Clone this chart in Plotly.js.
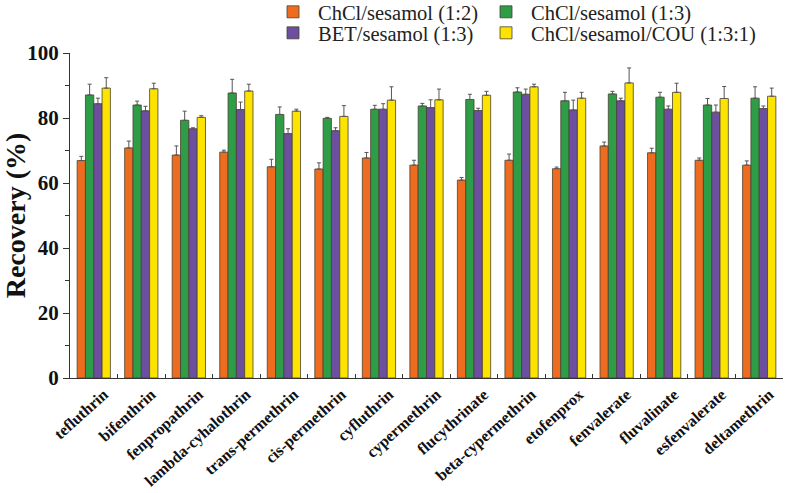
<!DOCTYPE html>
<html>
<head>
<meta charset="utf-8">
<script src="https://cdn.plot.ly/plotly-3.0.1.min.js"></script>
<style>
  html, body { margin: 0; padding: 0; background: #ffffff; }
  #chart { width: 787px; height: 493px; }
</style>
</head>
<body>
<div id="chart"></div>
<script>
// Pyrethroid recovery (%) for four extraction solvents, mean with upper SD bars
const pesticides = [
  'tefluthrin', 'bifenthrin', 'fenpropathrin', 'lambda-cyhalothrin', 'trans-permethrin',
  'cis-permethrin', 'cyfluthrin', 'cypermethrin', 'flucythrinate', 'beta-cypermethrin',
  'etofenprox', 'fenvalerate', 'fluvalinate', 'esfenvalerate', 'deltamethrin'
];

const seriesNames = [
  'ChCl/sesamol (1:2)', 'ChCl/sesamol (1:3)', 'BET/sesamol (1:3)', 'ChCl/sesamol/COU (1:3:1)'
];

const chcl12 = [66.9, 70.8, 68.6, 69.5, 65.0, 64.3, 67.7, 65.5, 60.9, 67.0, 64.4, 71.4, 69.3, 67.0, 65.5];
const chcl12Err = [1.3, 2.1, 2.8, 0.6, 2.3, 1.9, 1.7, 1.5, 0.8, 1.9, 0.5, 1.2, 1.4, 0.7, 1.3];

const chcl13 = [87.1, 84.0, 79.3, 87.7, 81.1, 79.9, 82.7, 83.7, 85.7, 88.0, 85.3, 87.4, 86.4, 84.0, 86.1];
const chcl13Err = [3.3, 1.2, 2.8, 4.2, 2.3, 0.3, 1.2, 0.8, 1.6, 1.3, 2.6, 0.8, 1.5, 2.0, 3.5];

const bet13 = [84.4, 82.2, 76.7, 82.6, 75.2, 76.1, 82.7, 83.2, 82.3, 87.3, 82.5, 85.3, 82.7, 81.8, 82.9];
const bet13Err = [1.7, 1.4, 0.3, 2.3, 1.5, 0.9, 1.7, 2.4, 0.7, 1.6, 3.0, 0.8, 1.0, 2.2, 0.8];

const cou131 = [89.2, 89.0, 80.2, 88.3, 82.1, 80.5, 85.5, 85.6, 87.0, 89.6, 86.1, 90.8, 87.9, 86.0, 86.7];
const cou131Err = [3.2, 1.7, 0.5, 2.1, 0.6, 3.3, 4.1, 3.3, 1.2, 0.8, 1.8, 4.6, 2.8, 3.7, 2.5];

const yTickVals = [0, 20, 40, 60, 80, 100];

const colors = ['#ee6c1f', '#2f9c47', '#6c4f9e', '#fde400'];
const serif = 'Liberation Serif, Times New Roman, serif';

function barTrace(name, values, errors, color, legendId) {
  return {
    type: 'bar',
    name: name,
    x: pesticides,
    y: values,
    legend: legendId,
    marker: { color: color, line: { color: '#4a4030', width: 0.8 } },
    error_y: {
      type: 'data', symmetric: false, array: errors,
      arrayminus: errors.map(() => 0),
      color: '#555555', thickness: 1, width: 2
    }
  };
}

const data = [
  barTrace(seriesNames[0], chcl12, chcl12Err, colors[0], 'legend'),
  barTrace(seriesNames[1], chcl13, chcl13Err, colors[1], 'legend2'),
  barTrace(seriesNames[2], bet13, bet13Err, colors[2], 'legend3'),
  barTrace(seriesNames[3], cou131, cou131Err, colors[3], 'legend4')
];

// one single-entry legend per series, laid out as a 2 x 2 key above the plot
function legendAt(px, py) {
  return {
    orientation: 'h',
    xref: 'container', yref: 'container',
    xanchor: 'left', yanchor: 'middle',
    x: px / 787, y: 1 - py / 493,
    itemwidth: 40,
    bgcolor: 'rgba(0,0,0,0)',
    font: { family: serif, size: 20.5, color: '#222222' },
    itemclick: false
  };
}

const layout = {
  width: 787,
  height: 493,
  paper_bgcolor: '#ffffff',
  plot_bgcolor: '#ffffff',
  margin: { l: 70, r: 4, t: 52, b: 115 },
  barmode: 'group',
  bargap: 0.3,
  bargroupgap: 0,
  showlegend: true,
  legend: legendAt(268, 12),
  legend2: legendAt(481, 12),
  legend3: legendAt(268, 33),
  legend4: legendAt(481, 33),
  xaxis: {
    type: 'category',
    showline: true, linecolor: '#333333', linewidth: 1,
    ticks: 'inside', tickson: 'boundaries', ticklen: 4, tickcolor: '#333333',
    tickangle: -42,
    ticklabelshift: 10,
    tickfont: { family: serif, size: 16, color: '#111111', weight: 'bold' },
    showgrid: false, zeroline: false
  },
  yaxis: {
    range: [0, 100],
    tickvals: yTickVals,
    showline: true, linecolor: '#333333', linewidth: 1,
    ticks: 'outside', ticklen: 6, tickcolor: '#333333',
    minor: { dtick: 10, ticks: 'outside', ticklen: 4, tickcolor: '#333333', showgrid: false },
    tickfont: { family: serif, size: 21, color: '#111111', weight: 'bold' },
    title: {
      text: 'Recovery (%)',
      font: { family: serif, size: 28, color: '#111111', weight: 'bold' },
      standoff: 10
    },
    showgrid: false, zeroline: false
  }
};

Plotly.newPlot('chart', data, layout, { displayModeBar: false, staticPlot: true });
</script>
</body>
</html>
